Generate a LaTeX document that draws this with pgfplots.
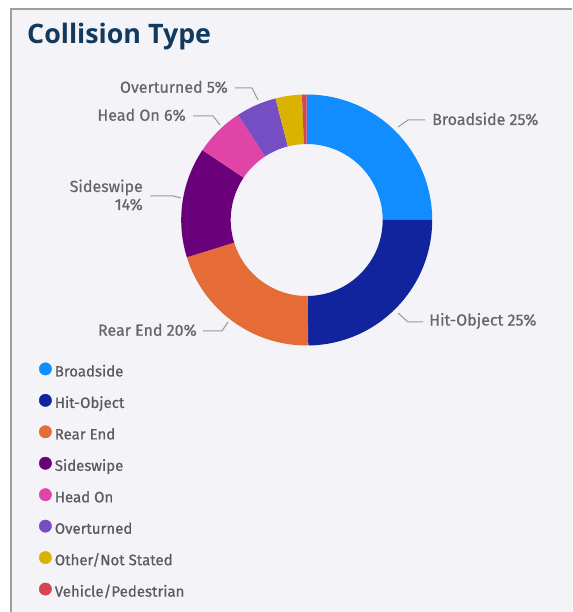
\documentclass[border=0pt]{standalone}
\usepackage{fontspec}
\setmainfont{Fira Sans}
\newfontfamily\medfont{Fira Sans}[FakeBold=0.6]
\newfontfamily\titlefont{Open Sans}
\usepackage{pgfplots}
\usepackage{pgfplotstable}
\pgfplotsset{compat=1.18}
\definecolor{cBroad}{HTML}{118DFF}
\definecolor{cHit}{HTML}{12239E}
\definecolor{cRear}{HTML}{E66C37}
\definecolor{cSide}{HTML}{6B007B}
\definecolor{cHead}{HTML}{E044A7}
\definecolor{cOver}{HTML}{744EC2}
\definecolor{cOther}{HTML}{D9B300}
\definecolor{cVeh}{HTML}{D64550}
\definecolor{panel}{HTML}{F3F3F8}
\definecolor{bordergray}{HTML}{A0A0A0}
\definecolor{titleblue}{HTML}{123A5E}
\definecolor{lblgray}{HTML}{666666}
\definecolor{leggray}{HTML}{5A5A5A}
\definecolor{leadergray}{HTML}{9A9A9A}

% share of each collision type (percent), drawn clockwise from 12 o'clock
\pgfplotstableread{
value col
25.0 cBroad
24.8 cHit
20.4 cRear
14.2 cSide
6.4  cHead
5.2  cOver
3.4  cOther
0.6  cVeh
}\coltab

\begin{document}
\begin{tikzpicture}[x=1pt,y=1pt,
  lbl/.style={inner sep=0pt, text=lblgray, font=\medfont\fontsize{16}{18}\selectfont},
  leader/.style={draw=leadergray, line width=1pt}]
\fill[white] (0,0) rectangle (572,612);
\fill[panel] (11,0) rectangle (572,603);
\draw[line width=2pt, bordergray] (11,0) -- (11,603) -- (572,603);
\node[anchor=base west, inner sep=0pt, text=titleblue, font=\titlefont\bfseries\fontsize{26.8}{30}\selectfont] at (27,568.7) {Collision Type};
\begin{axis}[
  at={(306.7pt,392pt)}, anchor=center,
  scale only axis, width=251pt, height=251pt,
  xmin=-125.5, xmax=125.5, ymin=-125.5, ymax=125.5,
  hide axis, clip=false,
  legend cell align=left,
  legend image code/.code={\fill (6pt,0.36em) circle (6.2pt);},
  legend style={at={(axis description cs:-0.5665,-0.0677)}, anchor=north west,
    draw=none, fill=none, inner sep=0pt, outer sep=0pt, row sep=13.45pt,
    font=\medfont\fontsize{15}{18}\selectfont, text=leggray,
    nodes={inner sep=0pt, text height=12pt, text depth=4pt},
    /tikz/every odd column/.append style={column sep=3pt}},
]
\pgfmathsetmacro\cum{90}
\pgfplotsforeachungrouped \i in {0,...,7}{%
  \pgfplotstablegetelem{\i}{value}\of\coltab \let\v\pgfplotsretval
  \pgfplotstablegetelem{\i}{col}\of\coltab \let\c\pgfplotsretval
  \pgfmathsetmacro\aA{\cum}%
  \pgfmathsetmacro\aB{\cum-3.6*\v}%
  \pgfmathsetmacro\xoA{125.5*cos(\aA)}%
  \pgfmathsetmacro\yoA{125.5*sin(\aA)}%
  \pgfmathsetmacro\xiB{76*cos(\aB)}%
  \pgfmathsetmacro\yiB{76*sin(\aB)}%
  \edef\cmd{\noexpand\fill[\c] (axis cs:\xoA,\yoA) arc[start angle=\aA, end angle=\aB, radius=125.5] -- (axis cs:\xiB,\yiB) arc[start angle=\aB, end angle=\aA, radius=76] -- cycle;}%
  \cmd
  \global\let\cum\aB
}
\addlegendimage{cBroad}\addlegendentry{Broadside}
\addlegendimage{cHit}\addlegendentry{Hit-Object}
\addlegendimage{cRear}\addlegendentry{Rear End}
\addlegendimage{cSide}\addlegendentry{Sideswipe}
\addlegendimage{cHead}\addlegendentry{Head On}
\addlegendimage{cOver}\addlegendentry{Overturned}
\addlegendimage{cOther}\addlegendentry{Other/Not Stated}
\addlegendimage{cVeh}\addlegendentry{Vehicle/Pedestrian}

\draw[leader] (axis cs:91.3,93) -- (axis cs:101.3,100) -- (axis cs:118.3,100);
\node[lbl, anchor=west] at (axis cs:125.3,101) {Broadside 25\%};
\draw[leader] (axis cs:91.3,-93) -- (axis cs:101.3,-102) -- (axis cs:116.3,-102);
\node[lbl, anchor=west] at (axis cs:122.3,-101) {Hit-Object 25\%};
\draw[leader] (axis cs:-103.7,-111) -- (axis cs:-84.7,-111) -- (axis cs:-78.7,-102);
\node[lbl, anchor=east] at (axis cs:-109.7,-110) {Rear End 20\%};
\draw[leader] (axis cs:-156.7,24) -- (axis cs:-133.7,24) -- (axis cs:-125.7,22);
\node[lbl, anchor=east, align=right] at (axis cs:-163.7,25) {Sideswipe\\14\%};
\draw[leader] (axis cs:-113.7,104) -- (axis cs:-93.7,104) -- (axis cs:-86.7,95);
\node[lbl, anchor=east] at (axis cs:-120.7,105) {Head On 6\%};
\draw[leader] (axis cs:-71.7,132) -- (axis cs:-54.7,132) -- (axis cs:-48.7,120);
\node[lbl, anchor=east] at (axis cs:-78.7,133) {Overturned 5\%};
\end{axis}
\pgfresetboundingbox
\useasboundingbox (0,0) rectangle (572,612);
\end{tikzpicture}
\end{document}
